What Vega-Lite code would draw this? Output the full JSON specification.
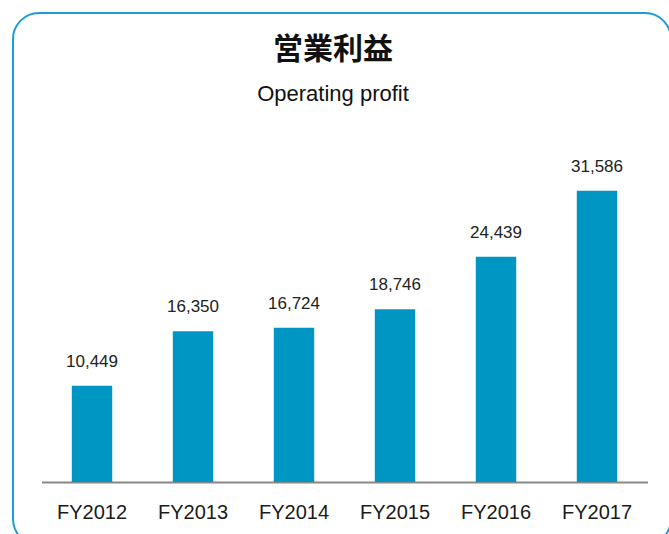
{
  "$schema": "https://vega.github.io/schema/vega-lite/v6.json",
  "width": 658,
  "height": 532,
  "padding": {"left": 13, "top": 13, "right": 0, "bottom": 0},
  "autosize": {"type": "none"},
  "background": "white",
  "config": {"view": {"stroke": "#1e9dd3", "strokeWidth": 2, "cornerRadius": 26}},
  "title": {
    "text": "営業利益",
    "subtitle": "Operating profit",
    "anchor": "middle",
    "frame": "group",
    "offset": -92,
    "dx": -9,
    "font": "Noto Sans CJK JP",
    "fontSize": 30,
    "fontWeight": "bold",
    "color": "#111111",
    "subtitleFont": "Liberation Sans",
    "subtitleFontSize": 22,
    "subtitleColor": "#111111",
    "subtitlePadding": 19
  },
  "data": {
    "values": [
      {"year": "FY2012", "profit": 10449},
      {"year": "FY2013", "profit": 16350},
      {"year": "FY2014", "profit": 16724},
      {"year": "FY2015", "profit": 18746},
      {"year": "FY2016", "profit": 24439},
      {"year": "FY2017", "profit": 31586}
    ]
  },
  "encoding": {
    "x": {
      "field": "year",
      "type": "nominal",
      "sort": null,
      "scale": {"range": [28.5, 634.5], "paddingInner": 0.6, "paddingOuter": 0.3},
      "axis": {
        "orient": "bottom",
        "offset": -63,
        "title": null,
        "domainColor": "#888888",
        "domainWidth": 2,
        "ticks": false,
        "grid": false,
        "labelAngle": 0,
        "labelFont": "Liberation Sans",
        "labelFontSize": 20,
        "labelColor": "#1a1a1a",
        "labelPadding": 20
      }
    },
    "y": {
      "field": "profit",
      "type": "quantitative",
      "scale": {"domain": [0, 50000], "range": [469, 8]},
      "axis": null
    }
  },
  "layer": [
    {"mark": {"type": "bar", "color": "#0096c4"}},
    {
      "mark": {"type": "text", "baseline": "alphabetic", "dy": -19, "font": "Liberation Sans", "fontSize": 17, "color": "#222222"},
      "encoding": {"text": {"field": "profit", "type": "quantitative", "format": ","}}
    }
  ]
}
